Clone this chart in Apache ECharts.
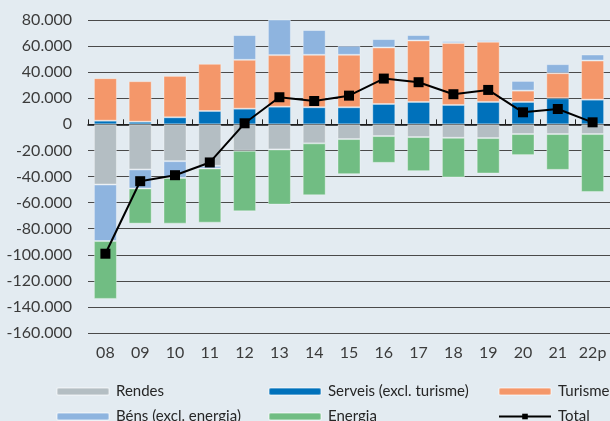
<!DOCTYPE html>
<html>
<head>
<meta charset="utf-8">
<script src="https://cdn.jsdelivr.net/npm/echarts@6/dist/echarts.min.js"></script>
<style>
html,body{margin:0;padding:0;background:#e3ebf1;}
#c{width:610px;height:421px;}
</style>
</head>
<body>
<div id="c"></div>
<script>
const categories = ['08','09','10','11','12','13','14','15','16','17','18','19','20','21','22p'];
const rendes  = [-46150,-34600,-28230,-31850,-20300,-19230,-14600,-11300,-9000,-9770,-10300,-10540,-7460,-7460,-7460];
const serveis = [2800,2000,5400,10230,12000,13540,13080,13080,15600,17150,14850,17150,17150,20000,18920];
const turisme = [32600,31080,31750,36150,37460,39530,40220,40220,43320,47150,47450,46150,8700,19230,30000];
const bens    = [-43350,-14600,-12840,-2000,19000,29000,19000,6930,6460,4160,1550,1300,7450,6920,4620];
const energia = [-44350,-26950,-35080,-41530,-46400,-42300,-39780,-26930,-20530,-26150,-30470,-27150,-16150,-27460,-44390];
const total   = [-99200,-43600,-39000,-29230,800,20770,17900,22000,35080,32300,23080,26380,9230,11770,1540];
const yTicks  = {min:-160000, max:80000, interval:20000};

const FONT = 'Lato';
const TXT = '#3b3b3b';
function fmt(v){
  const s = Math.abs(v).toString().replace(/\B(?=(\d{3})+(?!\d))/g,'.');
  return (v<0?'-':'') + s;
}
const colors = {rendes:'#b4bec3', serveis:'#0071bb', turisme:'#f4976a', bens:'#8eb4df', energia:'#71bd83'};
function barSeries(name, data, color){
  return {
    name, type:'bar', stack:'a', data, barWidth:23,
    itemStyle:{color, borderColor:'rgba(255,255,255,0.35)', borderWidth:1},
    emphasis:{disabled:true}
  };
}
function legend(name, left, top){
  return {
    data:[name], left, top, itemWidth:52, itemHeight:7, itemGap:0,
    selectedMode:false,
    textStyle:{fontFamily:FONT, fontSize:15, color:'#262626', padding:[0,0,0,2]},
    padding:0
  };
}
const chart = echarts.init(document.getElementById('c'), null, {renderer:'canvas'});
chart.setOption({
  backgroundColor:'#e3ebf1',
  animation:false,
  grid:{left:88, right:-4, top:20, height:313},
  xAxis:[
    {type:'category', data:categories, position:'bottom',
     axisLine:{show:false, onZero:false}, axisTick:{show:false},
     axisLabel:{interval:0, fontFamily:FONT, fontSize:16, color:TXT, margin:12}},
    {type:'category', data:categories, position:'bottom',
     axisLine:{show:true, onZero:true, lineStyle:{color:'#111', width:1.6}},
     axisTick:{show:true, inside:true, length:5, interval:0, lineStyle:{color:'#222', width:1}},
     axisLabel:{show:false}, splitLine:{show:false}}
  ],
  yAxis:{type:'value', min:yTicks.min, max:yTicks.max, interval:yTicks.interval,
    axisLine:{show:false}, axisTick:{show:false},
    axisLabel:{formatter:fmt, fontFamily:FONT, fontSize:16, color:TXT, margin:16},
    splitLine:{lineStyle:{color:'#4a4a4a', width:1}}},
  legend:[
    legend('Rendes',56,384),
    legend('Serveis (excl. turisme)',268,384),
    legend('Turisme',498,384),
    legend('Béns (excl. energia)',56,409),
    legend('Energia',268,409),
    legend('Total',498,409)
  ],
  series:[
    barSeries('Rendes', rendes, colors.rendes),
    barSeries('Serveis (excl. turisme)', serveis, colors.serveis),
    barSeries('Turisme', turisme, colors.turisme),
    barSeries('Béns (excl. energia)', bens, colors.bens),
    barSeries('Energia', energia, colors.energia),
    {name:'Total', type:'line', data:total, z:10,
     symbol:'rect', symbolSize:10, color:'#000',
     lineStyle:{color:'#000', width:2}, itemStyle:{color:'#000'},
     emphasis:{disabled:true}}
  ]
});
</script>
</body>
</html>
